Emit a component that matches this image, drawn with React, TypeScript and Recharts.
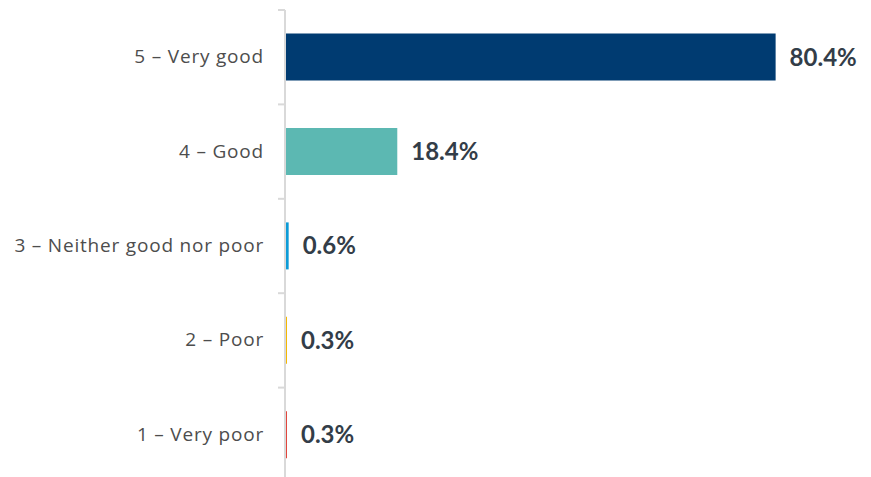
import { BarChart, Bar, XAxis, YAxis, Cell, LabelList } from 'recharts'

const categories = ['5 – Very good', '4 – Good', '3 – Neither good nor poor', '2 – Poor', '1 – Very poor']
const shares = [80.4, 18.4, 0.6, 0.3, 0.3]
const barColors = ['#003b71', '#5cb8b2', '#0c9bd7', '#f5b800', '#e2453c']

const data = categories.map((name, i) => ({ name, value: shares[i] }))

const CHART_HEIGHT = 482
const MARGIN_TOP = 10
const bandHalf = (CHART_HEIGHT - MARGIN_TOP) / categories.length / 2

const CategoryTick = (props: any) => {
  const { x, y, payload } = props
  return (
    <g>
      <line x1={278} x2={285} y1={y - bandHalf} y2={y - bandHalf} stroke="#d9d9d9" strokeWidth={2} />
      <text
        x={x}
        y={y}
        dy={6}
        textAnchor="end"
        fill="#4d4d4d"
        style={{ fontSize: '19px', letterSpacing: '0.8px', fontFamily: '"Open Sans", sans-serif', fontWeight: 400 }}
      >
        {payload.value}
      </text>
    </g>
  )
}

const App = () => {
  const wrapStyle: React.CSSProperties = {
    position: 'absolute',
    left: 0,
    top: 0,
    width: 871,
    height: 477,
    overflow: 'hidden',
    background: '#fff',
  }

  return (
    <div style={wrapStyle}>
      <BarChart
        width={871}
        height={CHART_HEIGHT}
        data={data}
        layout="vertical"
        margin={{ top: MARGIN_TOP, right: 49, bottom: 0, left: 0 }}
        barCategoryGap="25%"
      >
        <XAxis type="number" domain={[0, 88]} hide />
        <YAxis
          type="category"
          dataKey="name"
          width={285}
          axisLine={{ stroke: '#d9d9d9', strokeWidth: 2 }}
          tickLine={false}
          tickMargin={0}
          tick={<CategoryTick />}
          interval={0}
          tickSize={21}
        />
        <Bar dataKey="value" isAnimationActive={false} minPointSize={2}>
          {data.map((d, i) => (
            <Cell key={d.name} fill={barColors[i]} />
          ))}
          <LabelList
            dataKey="value"
            position="right"
            offset={14}
            formatter={(v: any) => `${v}%`}
            style={{ fontSize: '24px', fontWeight: 700, fontFamily: 'Lato, sans-serif', fill: '#333d48' }}
          />
        </Bar>
      </BarChart>
    </div>
  )
}

export default App
